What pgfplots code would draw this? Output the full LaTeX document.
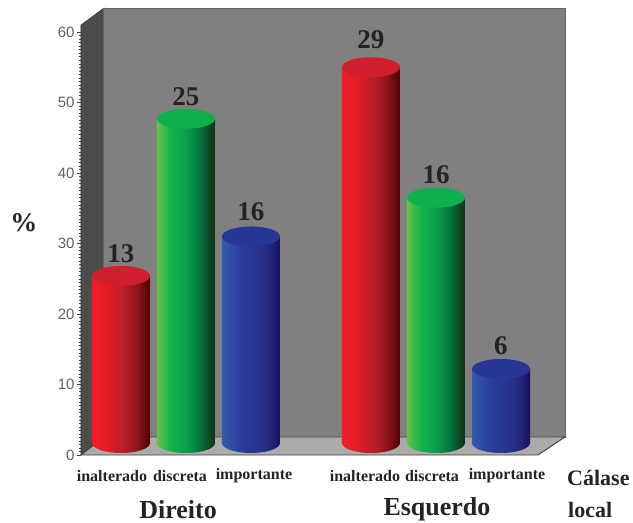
\documentclass[border=0pt]{standalone}
\usepackage{fontspec}
\usepackage{pgfplots}
\pgfplotsset{compat=1.18}
\setmainfont{Liberation Serif}
\newfontfamily\ticksans{Liberation Sans}

% cylinder side shadings, lit from the left
\pgfdeclarehorizontalshading{redbody}{100bp}{
  rgb(0bp)=(0.93,0.11,0.14); rgb(25bp)=(0.95,0.11,0.15); rgb(37bp)=(0.90,0.11,0.15);
  rgb(52bp)=(0.72,0.12,0.16); rgb(64bp)=(0.55,0.08,0.10); rgb(75bp)=(0.30,0.01,0.01); rgb(100bp)=(0.30,0.01,0.01)}
\pgfdeclarehorizontalshading{greenbody}{100bp}{
  rgb(0bp)=(0.38,0.76,0.28); rgb(25bp)=(0.38,0.76,0.28); rgb(37bp)=(0.08,0.70,0.30);
  rgb(50bp)=(0.03,0.62,0.30); rgb(62bp)=(0.02,0.45,0.24); rgb(75bp)=(0.08,0.18,0.08); rgb(100bp)=(0.08,0.18,0.08)}
\pgfdeclarehorizontalshading{bluebody}{100bp}{
  rgb(0bp)=(0.21,0.35,0.68); rgb(25bp)=(0.21,0.35,0.68); rgb(42bp)=(0.16,0.24,0.60);
  rgb(58bp)=(0.15,0.20,0.55); rgb(68bp)=(0.13,0.14,0.47); rgb(75bp)=(0.09,0.07,0.34); rgb(100bp)=(0.09,0.07,0.34)}

% elliptical ends of a cylinder
\pgfdeclareplotmark{cylcap}{\pgfpathellipse{\pgfpointorigin}{\pgfpoint{29pt}{0pt}}{\pgfpoint{0pt}{10pt}}\pgfusepathqfill}
\pgfdeclareplotmark{cylbaseredbody}{\pgfpathellipse{\pgfpointorigin}{\pgfpoint{29pt}{0pt}}{\pgfpoint{0pt}{10pt}}\pgfshadepath{redbody}{0}\pgfusepath{discard}}
\pgfdeclareplotmark{cylbasegreenbody}{\pgfpathellipse{\pgfpointorigin}{\pgfpoint{29pt}{0pt}}{\pgfpoint{0pt}{10pt}}\pgfshadepath{greenbody}{0}\pgfusepath{discard}}
\pgfdeclareplotmark{cylbasebluebody}{\pgfpathellipse{\pgfpointorigin}{\pgfpoint{29pt}{0pt}}{\pgfpoint{0pt}{10pt}}\pgfshadepath{bluebody}{0}\pgfusepath{discard}}

\definecolor{capred}{RGB}{208,30,45}
\definecolor{capgreen}{RGB}{15,175,75}
\definecolor{capblue}{RGB}{40,55,150}
\definecolor{inktext}{RGB}{35,35,38}

% #1 position, #2 percentage, #3 count printed above, #4 shading, #5 top colour, #6 label lift
\newcommand{\cylinder}[6]{%
  \addplot[only marks,mark=cylbase#4,yshift=12pt] coordinates {(#1,0)};
  \addplot[ybar,bar width=58pt,bar shift=0pt,draw=none,shade,shading=#4,yshift=12pt,
    mark=cylcap,mark options={fill=#5,draw=none},
    point meta=explicit symbolic,
    nodes near coords,
    every node near coord/.style={anchor=south,inner sep=0pt,yshift=#6,
      font=\fontsize{27}{27}\selectfont\bfseries,text=inktext}]
    coordinates {(#1,#2)[#3]};
}

\begin{document}
\begin{tikzpicture}
\useasboundingbox (-81pt,-68pt) rectangle (552pt,455pt);
\begin{axis}[
  scale only axis,width=457pt,height=430pt,
  xmin=81,xmax=538,ymin=0,ymax=61,
  clip=false,
  axis x line=none,
  axis y line*=left,
  axis line style={draw=black!75,line width=0.8pt},
  ytick={0,10,20,30,40,50,60},
  minor y tick num=19,
  tick align=outside,
  major tick length=4pt,minor tick length=1.6pt,
  tick style={draw=black!75,line width=0.6pt},
  minor tick style={draw=black!75,line width=0.5pt},
  yticklabel style={font=\ticksans\fontsize{15}{15}\selectfont,text=black!62,xshift=1pt,
    /pgf/number format/assume math mode=true},
]
% side wall, back wall and floor of the box
\addplot[fill=black!70,draw=black!80,line width=0.6pt] coordinates {(81,0)(81,61)(104,63.4)(104,2.55)} -- cycle;
\addplot[fill=black!50,draw=black!60,line width=1pt] coordinates {(104,2.55)(104,63.4)(565,63.4)(565,2.55)} -- cycle;
\addplot[fill=black!33,draw=black!75,line width=0.9pt] coordinates {(81,0)(104,2.55)(565,2.55)(538,0)} -- cycle;

\cylinder{121}{23.7}{13}{redbody}{capred}{13pt}
\cylinder{186}{46.0}{25}{greenbody}{capgreen}{13pt}
\cylinder{251}{29.3}{16}{bluebody}{capblue}{15pt}
\cylinder{371}{53.3}{29}{redbody}{capred}{18pt}
\cylinder{436}{34.8}{16}{greenbody}{capgreen}{14pt}
\cylinder{501}{10.5}{6}{bluebody}{capblue}{14pt}

% category names and group names
\begin{scope}[every node/.style={text=inktext,inner sep=0pt}]
\node[font=\fontsize{16}{16}\selectfont\bfseries] at (axis cs:112,-3) {inalterado};
\node[font=\fontsize{16}{16}\selectfont\bfseries] at (axis cs:180,-3) {discreta};
\node[font=\fontsize{16}{16}\selectfont\bfseries] at (axis cs:254,-3) {importante};
\node[font=\fontsize{16}{16}\selectfont\bfseries] at (axis cs:365,-3) {inalterado};
\node[font=\fontsize{16}{16}\selectfont\bfseries] at (axis cs:432,-3) {discreta};
\node[font=\fontsize{16}{16}\selectfont\bfseries] at (axis cs:507,-3) {importante};
\node[font=\fontsize{26}{26}\selectfont\bfseries] at (axis cs:178,-7.7) {Direito};
\node[font=\fontsize{26}{26}\selectfont\bfseries] at (axis cs:437,-7.7) {Esquerdo};
\node[font=\fontsize{22}{22}\selectfont\bfseries,anchor=west] at (axis cs:567,-3.3) {Cálase};
\node[font=\fontsize{22}{22}\selectfont\bfseries,anchor=west] at (axis cs:568,-7.8) {local};
\node[font=\fontsize{27}{27}\selectfont\bfseries] at (axis cs:24,33) {\%};
\end{scope}
\end{axis}
\end{tikzpicture}
\end{document}
